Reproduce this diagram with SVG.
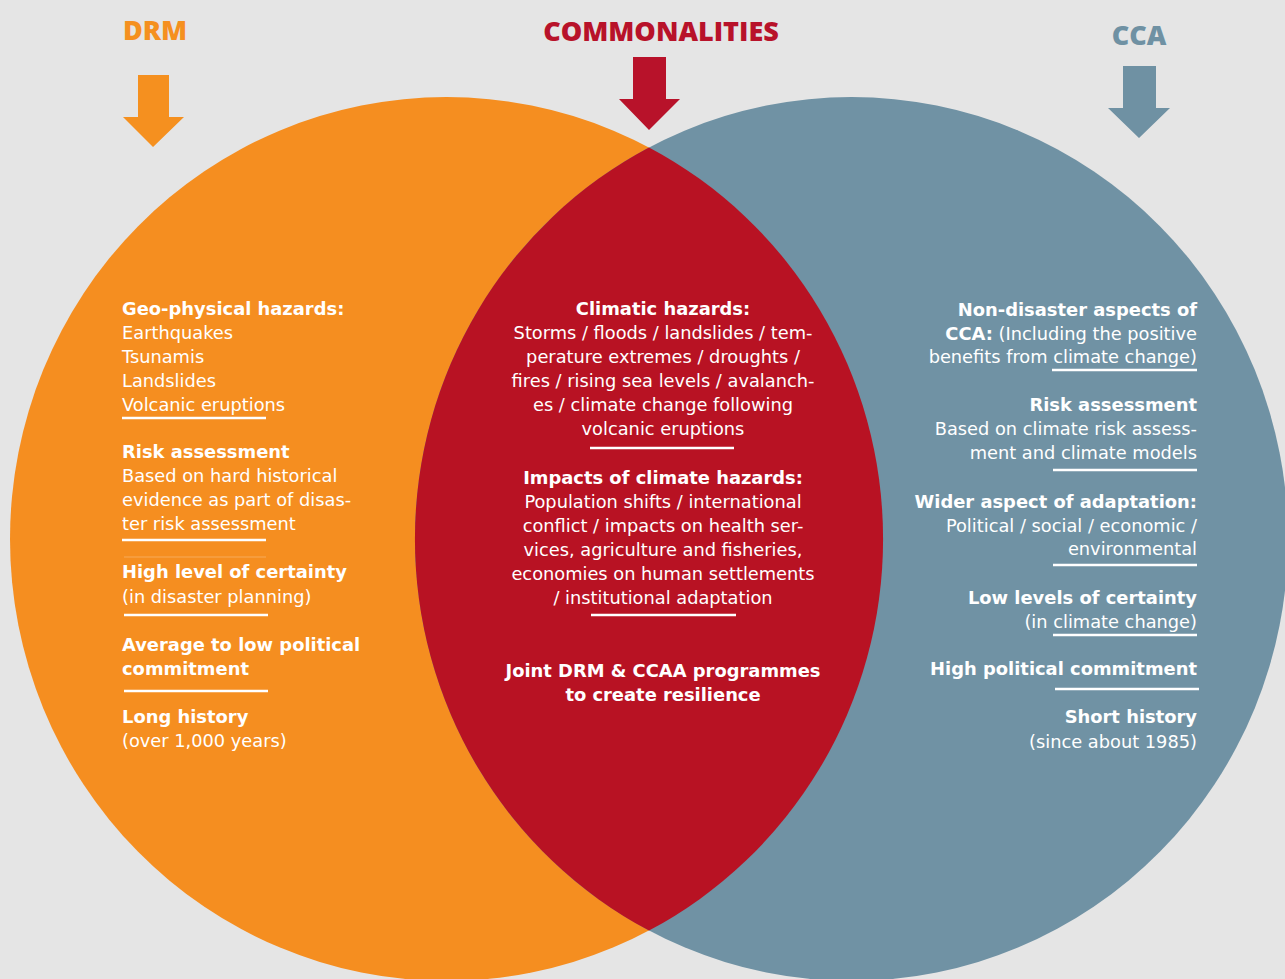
<svg xmlns="http://www.w3.org/2000/svg" width="1285" height="979" viewBox="0 0 1285 979">
  <style>
    .t { font-family: "DejaVu Sans", "Liberation Sans", sans-serif; fill: #ffffff; font-size: 17.8px; }
    .b { font-weight: 700; font-size: 17.9px; }
    .r { text-anchor: end; }
    .c { text-anchor: middle; }
    .ul { stroke: #ffffff; stroke-width: 2.5; fill: none; }
    .lbl { font-family: "Open Sans", "Liberation Sans", sans-serif; font-weight: 800; font-size: 27px; }
  </style>
  <rect x="0" y="0" width="1285" height="979" fill="#e5e5e5"/>

  <g id="drm-circle">
    <ellipse cx="446.5" cy="539" rx="436.5" ry="442" fill="#f58e20"/>
  </g>
  <g id="cca-circle">
    <ellipse cx="851.5" cy="539" rx="436.5" ry="442" fill="#7092a4"/>
  </g>
  <g id="commonalities-lens">
    <path d="M649 147.4 A436.5 442 0 0 1 649 930.6 A436.5 442 0 0 1 649 147.4 Z" fill="#b81223"/>
  </g>

  <g id="drm-header">
    <text class="lbl" x="123" y="40" fill="#f5901f">DRM</text>
    <polygon points="138,75 169,75 169,117 184,117 153,147 123,117 138,117" fill="#f5901f"/>
  </g>
  <g id="commonalities-header">
    <text class="lbl" x="661" y="41" text-anchor="middle" fill="#b8122a" font-size="27.7px">COMMONALITIES</text>
    <polygon points="633,57 666,57 666,99 680,99 649,130 619,99 633,99" fill="#b8122a"/>
  </g>
  <g id="cca-header">
    <text class="lbl" x="1139" y="45" text-anchor="middle" fill="#6f91a3">CCA</text>
    <polygon points="1123,66 1156,66 1156,108 1170,108 1139,138 1108,108 1123,108" fill="#6f91a3"/>
  </g>

  <g id="drm-text">
    <text class="t b" x="122" y="315">Geo-physical hazards:</text>
    <text class="t" x="122" y="339">Earthquakes</text>
    <text class="t" x="122" y="363">Tsunamis</text>
    <text class="t" x="122" y="387">Landslides</text>
    <text class="t" x="122" y="411">Volcanic eruptions</text>
    <line class="ul" x1="122" y1="418" x2="266" y2="418"/>

    <text class="t b" x="122" y="458">Risk assessment</text>
    <text class="t" x="122" y="482">Based on hard historical</text>
    <text class="t" x="122" y="506">evidence as part of disas-</text>
    <text class="t" x="122" y="530">ter risk assessment</text>
    <line class="ul" x1="122" y1="540" x2="266" y2="540"/>
    <line x1="124" y1="557" x2="266" y2="557" stroke="#ffffff" stroke-width="1" opacity="0.25"/>

    <text class="t b" x="122" y="578">High level of certainty</text>
    <text class="t" x="122" y="603">(in disaster planning)</text>
    <line class="ul" x1="124" y1="615" x2="268" y2="615"/>

    <text class="t b" x="122" y="651">Average to low political</text>
    <text class="t b" x="122" y="675">commitment</text>
    <line class="ul" x1="124" y1="691" x2="268" y2="691"/>

    <text class="t b" x="122" y="723">Long history</text>
    <text class="t" x="122" y="747">(over 1,000 years)</text>
  </g>

  <g id="common-text">
    <text class="t b c" x="663" y="315">Climatic hazards:</text>
    <text class="t c" x="663" y="339">Storms / floods / landslides / tem-</text>
    <text class="t c" x="663" y="363">perature extremes / droughts /</text>
    <text class="t c" x="663" y="387">fires / rising sea levels / avalanch-</text>
    <text class="t c" x="663" y="411">es / climate change following</text>
    <text class="t c" x="663" y="435">volcanic eruptions</text>
    <line class="ul" x1="590" y1="448" x2="734" y2="448"/>

    <text class="t b c" x="663" y="484">Impacts of climate hazards:</text>
    <text class="t c" x="663" y="508">Population shifts / international</text>
    <text class="t c" x="663" y="532">conflict / impacts on health ser-</text>
    <text class="t c" x="663" y="556">vices, agriculture and fisheries,</text>
    <text class="t c" x="663" y="580">economies on human settlements</text>
    <text class="t c" x="663" y="604">/ institutional adaptation</text>
    <line class="ul" x1="591" y1="615" x2="736" y2="615"/>

    <text class="t b c" x="663" y="677">Joint DRM &amp; CCAA programmes</text>
    <text class="t b c" x="663" y="701">to create resilience</text>
  </g>

  <g id="cca-text">
    <text class="t b r" x="1197" y="316">Non-disaster aspects of</text>
    <text class="t r" x="1197" y="340"><tspan font-weight="700" font-size="17.9px">CCA:</tspan> (Including the positive</text>
    <text class="t r" x="1197" y="363">benefits from climate change)</text>
    <line class="ul" x1="1052" y1="370" x2="1197" y2="370"/>

    <text class="t b r" x="1197" y="411">Risk assessment</text>
    <text class="t r" x="1197" y="435">Based on climate risk assess-</text>
    <text class="t r" x="1197" y="459">ment and climate models</text>
    <line class="ul" x1="1053" y1="470" x2="1197" y2="470"/>

    <text class="t b r" x="1197" y="508">Wider aspect of adaptation:</text>
    <text class="t r" x="1197" y="532">Political / social / economic /</text>
    <text class="t r" x="1197" y="555">environmental</text>
    <line class="ul" x1="1053" y1="565" x2="1197" y2="565"/>

    <text class="t b r" x="1197" y="604">Low levels of certainty</text>
    <text class="t r" x="1197" y="628">(in climate change)</text>
    <line class="ul" x1="1053" y1="635" x2="1197" y2="635"/>

    <text class="t b r" x="1197" y="675">High political commitment</text>
    <line class="ul" x1="1055" y1="689" x2="1199" y2="689"/>

    <text class="t b r" x="1197" y="723">Short history</text>
    <text class="t r" x="1197" y="748">(since about 1985)</text>
  </g>
</svg>
